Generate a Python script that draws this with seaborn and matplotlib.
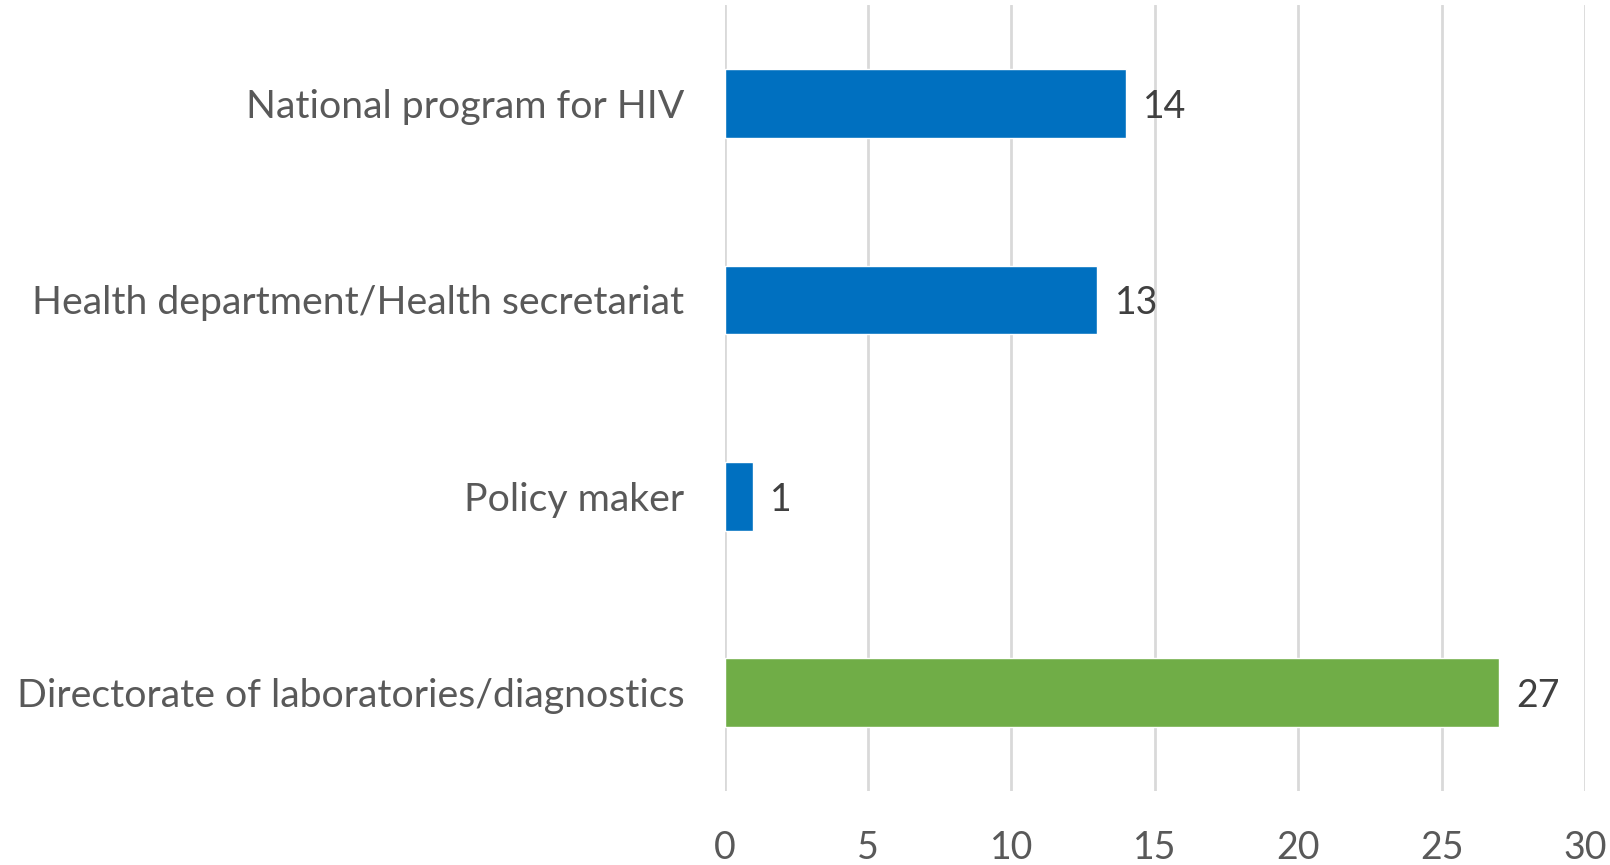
import matplotlib
matplotlib.use("Agg")
import matplotlib.pyplot as plt
import seaborn as sns
import pandas as pd

categories = [
    "National program for HIV",
    "Health department/Health secretariat",
    "Policy maker",
    "Directorate of laboratories/diagnostics",
]
counts = [14, 13, 1, 27]
bar_colors = ["#0070C0", "#0070C0", "#0070C0", "#70AD47"]
x_ticks = [0, 5, 10, 15, 20, 25, 30]

df = pd.DataFrame({"category": categories, "count": counts})

sns.set_theme(style="white")
plt.rcParams["font.family"] = ["Lato", "DejaVu Sans"]

fig = plt.figure(figsize=(16.1, 8.65), dpi=100)
ax = fig.add_axes([0.450, 0.0855, 0.5345, 0.9085])

sns.barplot(
    data=df, y="category", x="count", hue="category",
    palette=dict(zip(categories, bar_colors)), orient="h",
    width=0.35, legend=False, ax=ax, zorder=3, saturation=1,
)

ax.set_xlim(0, 30)
ax.set_ylim(3.5, -0.5)
ax.set_xticks(x_ticks)
ax.set_xticklabels([str(t) for t in x_ticks])
ax.xaxis.grid(True, color="#D9D9D9", linewidth=2, zorder=0)
ax.yaxis.grid(False)
for s in ax.spines.values():
    s.set_visible(False)
ax.set_xlabel("")
ax.set_ylabel("")
ax.tick_params(axis="x", length=0, pad=28, labelsize=27, labelcolor="#595959")
ax.tick_params(axis="y", length=0, pad=29, labelsize=28.3, labelcolor="#595959")

for i, v in enumerate(counts):
    ax.text(v + 0.6, i, str(v), va="center_baseline", ha="left",
            fontsize=27, color="#404040")

fig.savefig("out.png", dpi=100, facecolor="white")
